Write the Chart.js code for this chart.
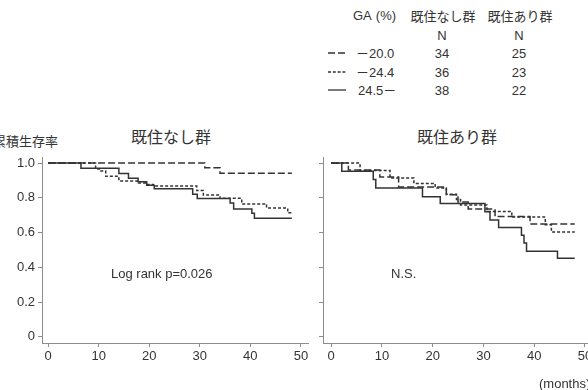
<!DOCTYPE html>
<html>
<head>
<meta charset="utf-8">
<script src="https://cdn.jsdelivr.net/npm/chart.js@4.4.1/dist/chart.umd.min.js"></script>
<style>
  body {
    margin: 0; width: 588px; height: 390px; overflow: hidden; position: relative;
    background: #fff; color: #333;
    font-family: "Liberation Sans", "Noto Sans CJK JP", sans-serif;
  }
  .t { position: absolute; white-space: nowrap; font-size: 13px; line-height: 1; transform: translate(-50%, -50%); }
  .l { transform: translate(0, -50%); }
  .jp { font-family: "Noto Sans CJK JP", sans-serif; }
  canvas { position: absolute; top: 145px; }
  svg { position: absolute; }
</style>
</head>
<body>
<!-- legend table -->
<div class="t l" style="left:353px;top:15px">GA<span style="margin-left:4px">(%)</span></div>
<div class="t jp" style="left:443px;top:15px">既住なし群</div>
<div class="t jp" style="left:520px;top:15px">既住あり群</div>
<div class="t" style="left:442px;top:35px">N</div>
<div class="t" style="left:519px;top:35px">N</div>

<svg style="left:326px;top:45px" width="22" height="50">
  <line x1="2" y1="8" x2="20" y2="8" stroke="#333" stroke-width="1.3" stroke-dasharray="7,3"/>
  <line x1="2" y1="27" x2="20" y2="27" stroke="#333" stroke-width="1.3" stroke-dasharray="3,1.8"/>
  <line x1="2" y1="45" x2="20" y2="45" stroke="#333" stroke-width="1.3"/>
</svg>
<div class="t l" style="left:356px;top:53px"><span class="jp">－</span>20.0</div>
<div class="t l" style="left:356px;top:72px"><span class="jp">－</span>24.4</div>
<div class="t l" style="left:358px;top:90px">24.5<span class="jp">－</span></div>
<div class="t" style="left:442px;top:53px">34</div>
<div class="t" style="left:519px;top:53px">25</div>
<div class="t" style="left:442px;top:72px">36</div>
<div class="t" style="left:519px;top:72px">23</div>
<div class="t" style="left:442px;top:90px">38</div>
<div class="t" style="left:519px;top:90px">22</div>

<!-- titles -->
<div class="t l jp" style="left:-7px;top:140px">累積生存率</div>
<div class="t jp" style="left:171px;top:136px;font-size:16px">既住なし群</div>
<div class="t jp" style="left:457px;top:136px;font-size:16px">既住あり群</div>

<canvas id="leftChart" width="318" height="220" style="left:0px"></canvas>
<canvas id="rightChart" width="289" height="220" style="left:313px"></canvas>

<div class="t l" style="left:111px;top:273px">Log rank p=0.026</div>
<div class="t l" style="left:391px;top:273px">N.S.</div>
<div class="t l" style="left:539px;top:383px">(months)</div>

<script>
// ticks
const xTicks = [0, 10, 20, 30, 40, 50];
const yTicks = [0, 0.2, 0.4, 0.6, 0.8, 1.0];

// 既住なし群 (months, survival)
const leftLongT = [0, 31, 34, 48.2];
const leftLongS = [1.0, 0.973, 0.941, 0.941];
const leftShortT = [0, 9.4, 10.3, 11.4, 14, 17.9, 19.5, 20.8, 29.4, 30.7, 34, 38.3, 43.2, 47.4, 48.2];
const leftShortS = [1.0, 0.966, 0.955, 0.924, 0.897, 0.885, 0.877, 0.868, 0.842, 0.816, 0.797, 0.765, 0.741, 0.714, 0.714];
const leftSolidT = [0, 6.5, 14, 15.9, 17.8, 19.5, 21, 28.6, 29.5, 36, 36.7, 40.3, 40.8, 48.2];
const leftSolidS = [1.0, 0.97, 0.94, 0.913, 0.893, 0.872, 0.853, 0.82, 0.796, 0.77, 0.736, 0.712, 0.683, 0.683];

// 既住あり群
const rightLongT = [0, 3.4, 9.6, 13.3, 22.7, 25, 27, 32.3, 39.2, 48];
const rightLongS = [1.0, 0.96, 0.92, 0.862, 0.818, 0.776, 0.736, 0.692, 0.65, 0.65];
const rightShortT = [0, 5.7, 11.6, 16.3, 20.5, 22.7, 24.7, 25.5, 30.7, 35.6, 42.2, 43.4, 48];
const rightShortS = [1.0, 0.957, 0.914, 0.883, 0.857, 0.82, 0.79, 0.759, 0.722, 0.69, 0.645, 0.603, 0.603];
const rightSolidT = [0, 2.1, 8.3, 8.8, 18, 21.5, 30.3, 31.3, 33, 37.5, 38, 38.5, 44.6, 48];
const rightSolidS = [1.0, 0.953, 0.905, 0.857, 0.806, 0.768, 0.72, 0.672, 0.63, 0.585, 0.54, 0.493, 0.452, 0.452];

const lineColor = "#333";
const axisColor = "#8c8c8c";
const font = { family: "Liberation Sans", size: 13 };

function pts(t, s) {
  return t.map((x, i) => ({ x: x, y: s[i] }));
}

// horizontal first, then drop at each event time
function series(t, s, dash) {
  return {
    data: pts(t, s),
    borderColor: lineColor,
    borderWidth: 1.5,
    borderDash: dash,
    pointRadius: 0,
    stepped: "before",
    fill: false,
  };
}

function makeChart(id, datasets, xMin, yWidth, showY) {
  return new Chart(document.getElementById(id), {
    type: "line",
    data: { datasets: datasets },
    options: {
      responsive: false,
      animation: false,
      events: [],
      layout: { padding: { top: 12, right: 10, left: 0, bottom: 0 } },
      plugins: { legend: { display: false }, tooltip: { enabled: false } },
      scales: {
        x: {
          type: "linear",
          min: xMin,
          max: 51.4,
          afterBuildTicks: (s) => { s.ticks = xTicks.map((v) => ({ value: v })); },
          afterFit: (s) => { s.height = 22; },
          ticks: { color: "#333", font: font, padding: 2, maxRotation: 0, autoSkip: false },
          grid: { drawOnChartArea: false, tickLength: 4, color: axisColor },
          border: { color: axisColor, width: 1 },
        },
        y: {
          min: -0.035,
          max: 1.035,
          afterBuildTicks: (s) => { s.ticks = yTicks.map((v) => ({ value: v })); },
          afterFit: (s) => { s.width = yWidth; },
          ticks: {
            color: "#333",
            font: font,
            padding: 3,
            autoSkip: false,
            callback: (v) => (showY ? (v === 0 ? "0" : v.toFixed(1)) : ""),
          },
          grid: { drawOnChartArea: false, tickLength: 4, color: axisColor },
          border: { color: axisColor, width: 1 },
        },
      },
    },
  });
}

makeChart("leftChart", [
  series(leftLongT, leftLongS, [7, 3]),
  series(leftShortT, leftShortS, [3, 2]),
  series(leftSolidT, leftSolidS, []),
], -1.2, 42, true);

makeChart("rightChart", [
  series(rightLongT, rightLongS, [7, 3]),
  series(rightShortT, rightShortS, [3, 2]),
  series(rightSolidT, rightSolidS, []),
], -1.6, 10, false);
</script>
</body>
</html>
